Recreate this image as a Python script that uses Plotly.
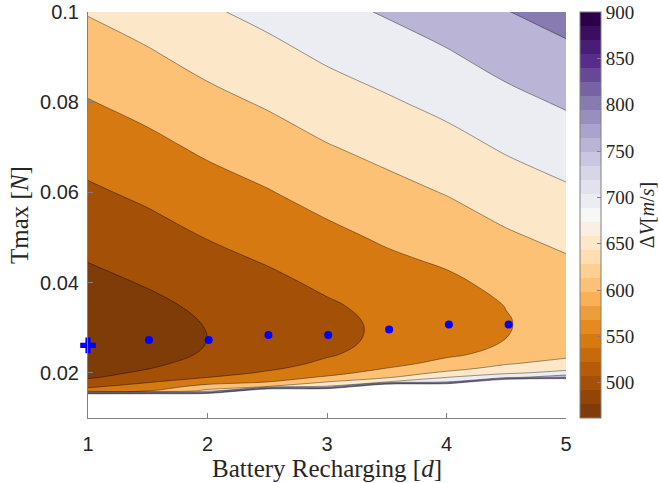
import plotly.graph_objects as go
from plotly.colors import diverging, sample_colorscale

nan = float("nan")

# Grid axes: battery recharging time [d] (columns) and max thrust [N] (rows)
recharge_days = [1.0, 1.5, 2.0, 2.5, 3.0, 3.5, 4.0, 4.5, 5.0]
tmax_n = [0.010, 0.015, 0.016, 0.017, 0.018, 0.019, 0.020, 0.021, 0.022,
          0.024, 0.026, 0.028, 0.030, 0.032, 0.035, 0.040, 0.045, 0.050,
          0.055, 0.060, 0.070, 0.080, 0.090, 0.100]

# Required delta-V [m/s] for each (Tmax, recharge) pair; nan = infeasible
delta_v = [
    [nan,   nan,   nan,   nan,   nan,   nan,   nan,   nan,   nan],
    [nan,   nan,   nan,   nan,   nan,   nan,   nan,   nan,   nan],
    [569.0, 598.0, 665.0, nan,   nan,   nan,   nan,   nan,   nan],
    [542.0, 570.0, 618.0, 648.0, 705.0, nan,   nan,   nan,   nan],
    [517.0, 546.0, 578.0, 600.0, 650.0, 700.0, 750.0, nan,   nan],
    [494.0, 526.0, 550.0, 574.0, 608.0, 645.0, 700.0, 738.0, 790.0],
    [482.0, 510.0, 531.0, 556.0, 582.0, 622.0, 660.0, 692.0, 715.0],
    [476.0, 498.5, 520.0, 543.0, 568.0, 601.0, 632.0, 668.0, 688.0],
    [471.0, 493.0, 513.0, 534.0, 559.0, 586.0, 615.0, 647.0, 670.0],
    [464.5, 485.0, 504.5, 524.0, 546.0, 568.0, 593.0, 614.0, 638.0],
    [462.0, 481.8, 501.0, 520.5, 540.0, 561.0, 584.0, 604.0, 623.0],
    [462.6, 481.1, 500.1, 519.1, 538.1, 558.0, 579.0, 599.5, 618.0],
    [464.4, 482.1, 501.1, 519.4, 538.4, 557.0, 577.1, 598.1, 616.3],
    [467.3, 484.3, 503.4, 521.0, 540.1, 557.9, 577.3, 598.3, 616.2],
    [474.0, 489.9, 509.1, 525.8, 544.9, 562.5, 580.0, 601.1, 618.7],
    [487.7, 503.5, 522.9, 539.2, 558.5, 576.5, 591.2, 612.4, 629.7],
    [501.5, 517.5, 537.2, 553.7, 573.3, 592.0, 606.4, 627.9, 645.5],
    [515.2, 531.5, 551.4, 568.2, 588.0, 606.5, 621.7, 643.4, 661.2],
    [529.0, 545.5, 565.7, 582.7, 602.8, 620.5, 636.9, 658.9, 677.0],
    [542.7, 559.5, 579.9, 597.2, 617.5, 635.0, 652.2, 674.4, 692.7],
    [570.2, 587.5, 608.4, 626.2, 647.0, 664.3, 682.7, 705.4, 724.2],
    [597.7, 615.5, 636.9, 655.2, 676.5, 694.3, 713.2, 736.4, 755.7],
    [625.2, 643.5, 665.4, 684.2, 706.0, 724.3, 743.7, 767.4, 787.2],
    [652.7, 671.5, 693.9, 713.2, 735.5, 754.3, 774.2, 798.4, 818.7],
]

# Optimal thrust for each recharge time, and the starting design point
opt_days = [1.51, 2.01, 2.51, 3.01, 3.52, 4.02, 4.52]
opt_tmax = [0.0273, 0.0273, 0.0284, 0.0284, 0.0296, 0.0307, 0.0307]
start_days = [1.0]
start_tmax = [0.0261]

# Contour levels and colour-bar settings
LEVEL_START, LEVEL_END, LEVEL_STEP = 500, 850, 50
CMIN, CMAX, N_STEPS = 462, 900, 29
bar_ticks = [500, 550, 600, 650, 700, 750, 800, 850, 900]

SANS = "Liberation Sans, Arial, sans-serif"
SERIF = "Liberation Serif, Times New Roman, serif"
AXIS_GREY = "#808080"
TEXT = "#262626"

# Discrete PuOr colormap (brown -> white -> purple)
step_colors = sample_colorscale(list(diverging.PuOr),
                                [k / (N_STEPS - 1) for k in range(N_STEPS)])


def step_color(v):
    k = int((v - CMIN) / (CMAX - CMIN) * N_STEPS)
    return step_colors[max(0, min(N_STEPS - 1, k))]


levels = list(range(LEVEL_START, LEVEL_END + 1, LEVEL_STEP))
n_lv = len(levels)
# band colours: below first level, then one per level; above last = blank
band_colors = [step_color(CMIN)] + [step_color(L) for L in levels[:-1]] + ["white"]
fill_scale = [[k / n_lv, c] for k, c in enumerate(band_colors)]

bar_scale = []
for k, c in enumerate(step_colors):
    bar_scale.append([k / N_STEPS, c])
    bar_scale.append([(k + 1) / N_STEPS, c])

# infeasible cells are pushed above the last level so they render blank
BLANK = 1000.0
z = [[BLANK if v != v else v for v in row] for row in delta_v]

fig = go.Figure()

fig.add_trace(go.Contour(
    x=recharge_days, y=tmax_n, z=z,
    autocontour=False,
    contours=dict(start=LEVEL_START, end=LEVEL_END, size=LEVEL_STEP,
                  coloring="fill", showlines=True),
    colorscale=fill_scale,
    line=dict(color="rgba(0,0,0,0.65)", width=0.6, smoothing=1),
    showscale=False,
    hoverinfo="skip",
))

# colour bar
fig.add_trace(go.Scatter(
    x=[None], y=[None], mode="markers",
    marker=dict(color=[CMIN], cmin=CMIN, cmax=CMAX, colorscale=bar_scale,
                showscale=True,
                colorbar=dict(
                    x=1.0293, xanchor="left", y=0.5, yanchor="middle",
                    len=1.0, lenmode="fraction",
                    thickness=21, thicknessmode="pixels",
                    xpad=0, ypad=0,
                    outlinewidth=1, outlinecolor=AXIS_GREY,
                    tickvals=bar_ticks, ticks="inside", ticklen=4,
                    tickcolor=AXIS_GREY,
                    tickfont=dict(family=SERIF, size=19, color=TEXT),
                    title=dict(text="Δ<i>V</i>[<i>m</i>/<i>s</i>]", side="right",
                               font=dict(family=SERIF, size=20, color=TEXT)),
                )),
    hoverinfo="skip", showlegend=False,
))

fig.add_trace(go.Scatter(
    x=opt_days, y=opt_tmax, mode="markers",
    marker=dict(color="#0000ff", size=8, symbol="circle"),
    hoverinfo="skip", showlegend=False,
))

fig.add_trace(go.Scatter(
    x=start_days, y=start_tmax, mode="markers",
    marker=dict(color="#0000ff", size=13, symbol="cross"),
    cliponaxis=False, hoverinfo="skip", showlegend=False,
))

fig.update_layout(
    width=659, height=483,
    margin=dict(l=88, r=93, t=12, b=65, autoexpand=False),
    paper_bgcolor="white", plot_bgcolor="white",
    showlegend=False,
    font=dict(family=SANS, size=20, color=TEXT),
)

fig.update_xaxes(
    range=[1, 5], tickvals=[1, 2, 3, 4, 5],
    ticks="inside", ticklen=5, tickcolor=AXIS_GREY,
    showline=True, linecolor=AXIS_GREY, linewidth=1,
    showgrid=False, zeroline=False,
    tickfont=dict(family=SANS, size=20, color=TEXT),
    ticklabelstandoff=8,
    title=dict(text="Battery Recharging [<i>d</i>]",
               font=dict(family=SERIF, size=25, color=TEXT), standoff=2),
)

fig.update_yaxes(
    range=[0.01, 0.1], tickvals=[0.02, 0.04, 0.06, 0.08, 0.1],
    ticks="inside", ticklen=5, tickcolor=AXIS_GREY,
    showline=True, linecolor=AXIS_GREY, linewidth=1,
    showgrid=False, zeroline=False,
    tickfont=dict(family=SANS, size=20, color=TEXT),
    ticklabelstandoff=4,
    title=dict(text="Tmax [<i>N</i>]",
               font=dict(family=SERIF, size=25, color=TEXT), standoff=4),
)

fig.write_html("out.html")
